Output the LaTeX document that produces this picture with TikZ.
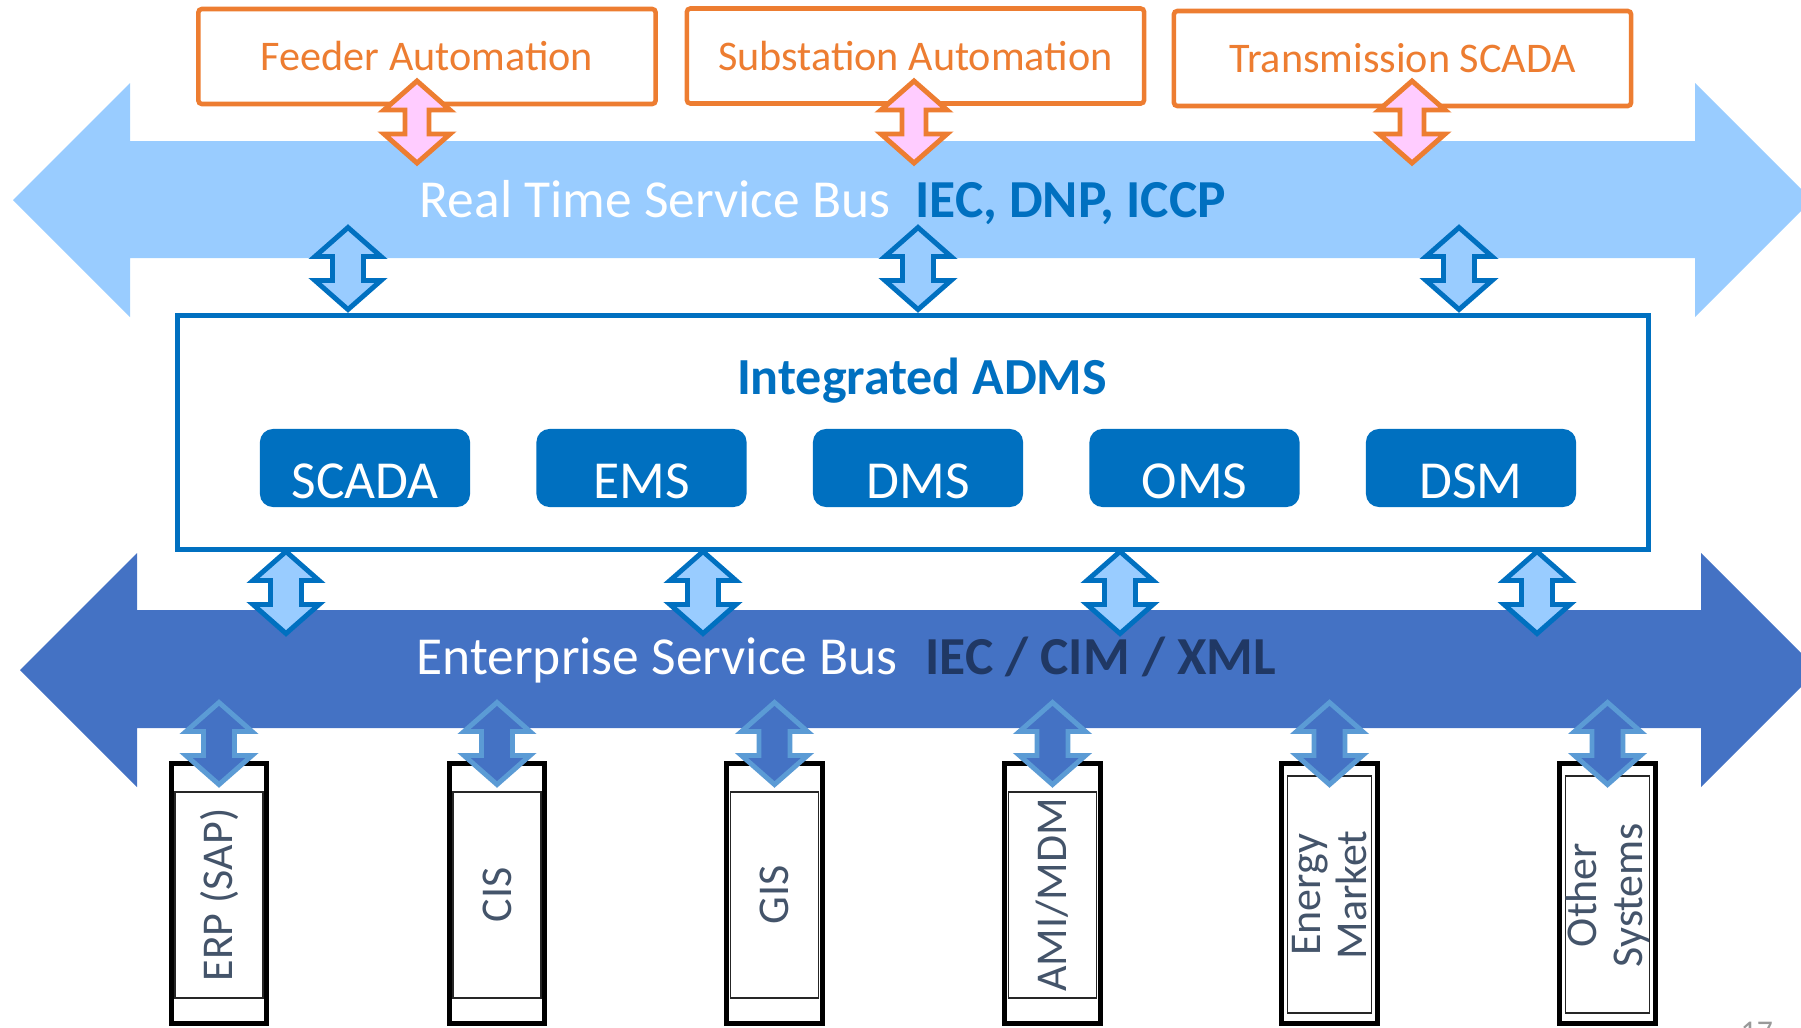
\documentclass[tikz,border=0pt]{standalone}
\usepackage{fontspec}
\setmainfont{Carlito}
\definecolor{rtblue}{HTML}{99CCFF}
\definecolor{admsblue}{HTML}{0070C0}
\definecolor{esbblue}{HTML}{4472C4}
\definecolor{linkblue}{HTML}{5B9BD5}
\definecolor{apporange}{HTML}{ED7D31}
\definecolor{pinkfill}{HTML}{FFCCFF}
\definecolor{navy}{HTML}{203864}
\definecolor{slate}{HTML}{44546A}
\tikzset{shaftw/.store in=\shafthw, shaftw=15.5}
\tikzstyle{appbox}=[draw=apporange,line width=1.3pt,fill=white,rounded corners=1pt,minimum width=4.57cm,minimum height=0.95cm,inner sep=0pt,text=apporange,font=\fontsize{12}{14}\selectfont]
\tikzstyle{modbox}=[fill=admsblue,rounded corners=0.13cm,minimum width=2.1cm,minimum height=0.78cm,inner sep=0pt]
\tikzstyle{modtext}=[anchor=base,inner sep=0pt,text=white,font=\fontsize{15.2}{18}\selectfont]
\tikzstyle{busname}=[anchor=base west,inner sep=0pt,text=white,font=\fontsize{15.2}{18}\selectfont]
\tikzstyle{busproto}=[anchor=base west,inner sep=0pt,font=\fontsize{15.2}{18}\selectfont\bfseries]
\tikzstyle{sysbox}=[draw=black,line width=1.5pt,fill=white,minimum width=0.955cm,minimum height=2.6cm,inner sep=0pt]
\tikzstyle{sysinner}=[draw=black!85,line width=0.45pt]
\tikzstyle{systext}=[rotate=90,align=center,inner sep=0pt,text=slate,font=\fontsize{12.5}{13.2}\selectfont]
\tikzstyle{rtlink}=[draw=apporange,fill=pinkfill,line width=1.4pt,shaftw=12]
\tikzstyle{admslink}=[draw=admsblue,fill=rtblue,line width=1.4pt]
\tikzstyle{esblink}=[draw=linkblue,fill=esbblue,line width=1.4pt]
\tikzset{dblarrow/.pic={
    \path[#1] (0,-41) -- (33,-12) -- (\shafthw,-12) -- (\shafthw,12) -- (33,12) -- (0,41)
      -- (-33,12) -- (-\shafthw,12) -- (-\shafthw,-12) -- (-33,-12) -- cycle;
}}

\begin{document}
\begin{tikzpicture}[x=0.01cm,y=-0.01cm]
    \useasboundingbox (0,0) rectangle (1801,1027);
    % the two buses
    \fill[rtblue] (13,200) -- (130,83) -- (130,141) -- (1695,141) -- (1695,83) -- (1812,200)
      -- (1695,317) -- (1695,258) -- (130,258) -- (130,317) -- cycle;
    \fill[esbblue] (20,670) -- (137,553) -- (137,610) -- (1701,610) -- (1701,553) -- (1818,670)
      -- (1701,787) -- (1701,728) -- (137,728) -- (137,787) -- cycle;
    \node[busname] (rtname) at (419,217) {Real Time Service Bus};
    \node[busproto,text=admsblue] (rtproto) at (915,217) {IEC, DNP, ICCP};
    \node[busname] (esbname) at (416,674) {Enterprise Service Bus};
    \node[busproto,text=navy] (esbproto) at (925,674) {IEC / CIM / XML};

    % real time applications
    \node[appbox] (feeder) at (427,56.5) {Feeder Automation};
    \node[appbox] (substation) at (915.5,56) {Substation Automation};
    \node[appbox] (transmission) at (1402.5,58.5) {Transmission SCADA};
    \foreach \x in {417,914,1412}
      \pic at (\x,122) {dblarrow=rtlink};

    % ADMS
    \node[draw=admsblue,line width=1.4pt,fill=white,minimum width=14.71cm,minimum height=2.34cm] (adms) at (913,432.5) {};
    \node[anchor=base,inner sep=0pt,text=admsblue,font=\fontsize{14.8}{18}\selectfont\bfseries] (admstitle) at (922,394) {Integrated ADMS};
    \foreach \x/\name/\txt in {365/scada/SCADA,641.5/ems/EMS,918/dms/DMS,1194.5/oms/OMS,1471/dsm/DSM} {
      \node[modbox] (\name) at (\x,468) {};
      \node[modtext] (\name-txt) at (\x,498) {\txt};
    }
    \foreach \x in {348,918,1459}
      \pic at (\x,268.5) {dblarrow=admslink};
    \foreach \x in {286,703,1120,1537}
      \pic at (\x,592.5) {dblarrow=admslink};

    % enterprise systems
    \foreach \x/\name/\t/\b/\w/\txt in {219/erp/792/998/44/{ERP (SAP)},497/cis/792/998/44/CIS,774.5/gis/792/998/44/GIS,
        1052.5/ami/792/998/44/{AMI/MDM},1329.5/market/776/1013/42/{Energy\\Market},1607.5/other/776/1013/42/{Other\\Systems}} {
      \node[sysbox] (\name) at (\x,893.5) {};
      \draw[sysinner] (\x-\w,\t) rectangle (\x+\w,\b);
      \node[systext] (\name-txt) at (\x,895) {\txt};
      \pic at (\name |- 0,743.5) {dblarrow=esblink};
    }

    \node[anchor=north west,inner sep=0pt,text=black!40,font=\fontsize{9}{10}\selectfont] (pageno) at (1740,1021) {17};
\end{tikzpicture}
\end{document}
